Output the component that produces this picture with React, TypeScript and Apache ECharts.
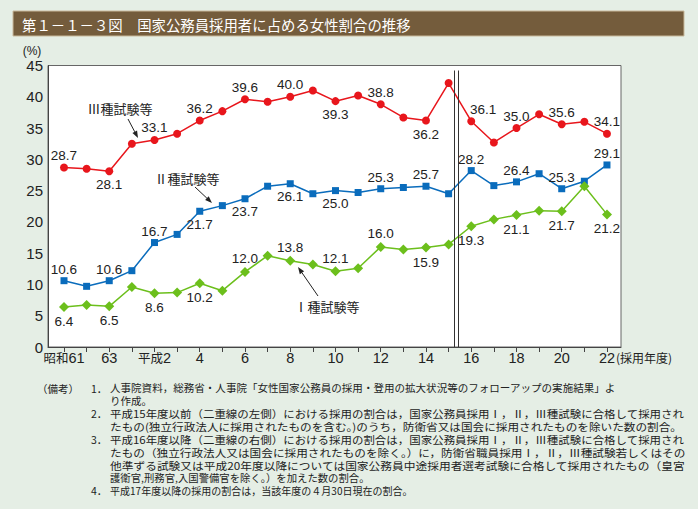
import React, { useEffect, useRef } from 'react';
import * as echarts from 'echarts';

// ---- data ----
const tickLabels = ['昭和61', '', '63', '', '平成2', '', '4', '', '6', '', '8', '', '10', '', '12', '', '14', '', '16', '', '18', '', '20', '', '22'];
const type3 = [28.7, 28.5, 28.1, 32.5, 33.1, 34.1, 36.2, 37.7, 39.6, 39.2, 40.0, 41.0, 39.3, 40.2, 38.8, 36.7, 36.2, 42.2, 36.1, 32.7, 35.0, 37.2, 35.6, 36.0, 34.1];
const type2 = [10.6, 9.7, 10.6, 12.2, 16.7, 18.0, 21.7, 22.6, 23.7, 25.7, 26.1, 24.5, 25.0, 24.7, 25.3, 25.5, 25.7, 24.5, 28.2, 25.8, 26.4, 27.7, 25.3, 26.5, 29.1];
const type1 = [6.4, 6.7, 6.5, 9.6, 8.6, 8.7, 10.2, 9.0, 12.0, 14.6, 13.8, 13.2, 12.1, 12.6, 16.0, 15.6, 15.9, 16.4, 19.3, 20.4, 21.1, 21.8, 21.7, 25.7, 21.2];

const T = 'top', B = 'bottom', N = '';
const labelPos3 = [T, N, B, N, T, N, T, N, T, N, T, N, B, N, T, N, B, N, T, N, T, N, T, N, T];
const labelPos2 = [T, N, T, N, T, N, B, N, B, N, B, N, B, N, T, N, T, N, T, N, T, N, T, N, T];
const labelPos1 = [B, N, B, N, B, N, B, N, T, N, T, N, T, N, T, N, B, N, B, N, B, N, B, N, B];

const seriesNames = ['Ⅲ種試験等', 'Ⅱ種試験等', 'Ⅰ種試験等'];
const title = '第１－１－３図　国家公務員採用者に占める女性割合の推移';
const unitLabel = '(%)';
const xUnitLabel = '(採用年度)';
const notesHead = '（備考）';
const noteNums = ['1．', '', '2．', '', '3．', '', '', '', '4．'];
const noteLines = [
  '人事院資料，総務省・人事院「女性国家公務員の採用・登用の拡大状況等のフォローアップの実施結果」よ',
  'り作成。',
  '平成15年度以前（二重線の左側）における採用の割合は，国家公務員採用Ⅰ，Ⅱ，Ⅲ種試験に合格して採用され',
  'たもの(独立行政法人に採用されたものを含む。)のうち，防衛省又は国会に採用されたものを除いた数の割合。',
  '平成16年度以降（二重線の右側）における採用の割合は，国家公務員採用Ⅰ，Ⅱ，Ⅲ種試験に合格して採用され',
  'たもの（独立行政法人又は国会に採用されたものを除く。）に，防衛省職員採用Ⅰ，Ⅱ，Ⅲ種試験若しくはその',
  '他準ずる試験又は平成20年度以降については国家公務員中途採用者選考試験に合格して採用されたもの（皇宮',
  '護衛官,刑務官,入国警備官を除く。）を加えた数の割合。',
  '平成17年度以降の採用の割合は，当該年度の４月30日現在の割合。',
];

// ---- layout / style ----
const W = 698, H = 509;
const CJK = '"Noto Sans CJK JP", sans-serif';
const NUM = '"Liberation Sans", Arial, sans-serif';
const noteWidths = [506, 0, 575, 578, 575, 576, 576, 260, 303];

function measure(text: string, font: string): number {
  const c = document.createElement('canvas');
  const ctx = c.getContext('2d');
  if (!ctx) return text.length * 10;
  ctx.font = font;
  return ctx.measureText(text).width;
}

function arrow(x1: number, y1: number, x2: number, y2: number): any[] {
  const dx = x2 - x1, dy = y2 - y1;
  const len = Math.sqrt(dx * dx + dy * dy);
  const ux = dx / len, uy = dy / len;
  const hl = 7, hw = 2.6;
  const bx = x2 - ux * hl, by = y2 - uy * hl;
  return [
    { type: 'line', shape: { x1, y1, x2: bx, y2: by }, style: { stroke: '#222', lineWidth: 1 }, silent: true },
    {
      type: 'polygon',
      shape: { points: [[x2, y2], [bx - uy * hw, by + ux * hw], [bx + uy * hw, by - ux * hw]] },
      style: { fill: '#222' },
      silent: true,
    },
  ];
}

function buildData(values: number[], pos: string[], offsets: Record<number, number[]> = {}) {
  return values.map((v, i) => ({
    value: [i, v],
    label: pos[i]
      ? { show: true, position: pos[i], distance: pos[i] === 'top' ? 1 : 2.5, offset: offsets[i] || [0, 0] }
      : { show: false },
  }));
}

export default function App() {
  const ref = useRef<HTMLDivElement>(null);
  useEffect(() => {
    if (!ref.current) return;
    const chart = echarts.init(ref.current, undefined, { renderer: 'svg' });

    const labelStyle = {
      fontSize: 13.5,
      color: '#222',
      fontFamily: NUM,
      formatter: (p: any) => Number(p.value[1]).toFixed(1),
    };

    const noteFont = `10.5px ${CJK}`;
    const notes: any[] = [];
    const noteY0 = 388, noteDy = 12.8;
    notes.push({ type: 'text', x: 37, y: noteY0, style: { text: notesHead, font: noteFont, fill: '#222', verticalAlign: 'middle' }, silent: true });
    noteLines.forEach((line, i) => {
      const y = noteY0 + i * noteDy;
      if (noteNums[i]) {
        notes.push({ type: 'text', x: 91, y, style: { text: noteNums[i], font: noteFont, fill: '#222', verticalAlign: 'middle' }, silent: true });
      }
      const w = measure(line, noteFont);
      const sx = noteWidths[i] ? noteWidths[i] / w : 1;
      notes.push({ type: 'text', x: 110, y, style: { text: line, font: noteFont, fill: '#222', verticalAlign: 'middle' }, scaleX: sx, silent: true });
    });

    const annot = (text: string, cx: number, cy: number) => ({
      type: 'text', x: cx, y: cy,
      style: { text, font: `13px ${CJK}`, fill: '#222', align: 'center', verticalAlign: 'middle' },
      silent: true,
    });

    const option: any = {
      animation: false,
      backgroundColor: '#e5eee5',
      grid: {
        left: 48, right: W - 621, top: 65.5, bottom: H - 347,
        show: true, backgroundColor: '#fff', borderColor: '#666', borderWidth: 1,
      },
      xAxis: {
        type: 'value', min: -0.707, max: 24.62,
        axisLine: { show: true, onZero: false, lineStyle: { color: '#444', width: 1 } },
        axisTick: { show: true, customValues: tickLabels.map((_, i) => i), length: 5, lineStyle: { color: '#444' } },
        axisLabel: {
          customValues: tickLabels.map((_, i) => i).filter((i) => tickLabels[i] !== ''),
          margin: 3,
          formatter: (v: number) => {
            const s = tickLabels[Math.round(v)] || '';
            const m = s.match(/^(昭和|平成)(.*)$/);
            return m ? `{c|${m[1]}}{n|${m[2]}}` : `{n|${s}}`;
          },
          rich: {
            c: { fontSize: 12.5, fontFamily: CJK, color: '#222' },
            n: { fontSize: 14.5, fontFamily: NUM, color: '#222' },
          },
        },
        splitLine: { show: false },
      },
      yAxis: {
        type: 'value', min: 0, max: 45, interval: 5,
        axisLine: { show: true, onZero: false, lineStyle: { color: '#444', width: 1 } },
        axisTick: { show: false },
        axisLabel: { fontSize: 15, fontFamily: NUM, color: '#222', margin: 5 },
        splitLine: { show: false },
      },
      series: [
        {
          name: seriesNames[0], type: 'line', symbol: 'circle', symbolSize: 8,
          itemStyle: { color: '#e8161c' }, lineStyle: { color: '#e8161c', width: 1.5 },
          label: labelStyle,
          data: buildData(type3, labelPos3, { 18: [12, 0] }),
          markLine: {
            silent: true, symbol: ['none', 'none'], label: { show: false },
            lineStyle: { color: '#333', width: 1, type: 'solid' },
            data: [
              [{ coord: [17.27, 0] }, { coord: [17.27, 44.2] }],
              [{ coord: [17.42, 0] }, { coord: [17.42, 44.2] }],
            ],
          },
          z: 3,
        },
        {
          name: seriesNames[1], type: 'line', symbol: 'rect', symbolSize: 7,
          itemStyle: { color: '#0a6cbc' }, lineStyle: { color: '#0a6cbc', width: 1.5 },
          label: labelStyle,
          data: buildData(type2, labelPos2),
          z: 3,
        },
        {
          name: seriesNames[2], type: 'line', symbol: 'diamond', symbolSize: 10,
          itemStyle: { color: '#6cbf1c' }, lineStyle: { color: '#6cbf1c', width: 1.5 },
          label: labelStyle,
          data: buildData(type1, labelPos1),
          z: 3,
        },
      ],
      graphic: [
        { type: 'rect', shape: { x: 13, y: 11, width: 671, height: 25 }, style: { fill: '#745c3c', stroke: '#c9b99b', lineWidth: 1 }, silent: true },
        { type: 'text', x: 22, y: 24, style: { text: title, font: `14.4px ${CJK}`, fill: '#fff', verticalAlign: 'middle' }, silent: true },
        { type: 'text', x: 32, y: 51, style: { text: unitLabel, font: `12px ${NUM}`, fill: '#222', align: 'center', verticalAlign: 'middle' }, silent: true },
        { type: 'text', x: 616, y: 357.5, style: { text: xUnitLabel, font: `12px ${CJK}`, fill: '#222', verticalAlign: 'middle' }, silent: true },
        annot(seriesNames[0], 120, 108),
        ...arrow(128, 119, 138, 138),
        annot(seriesNames[1], 187, 178),
        ...arrow(195, 187, 212, 203),
        annot(seriesNames[2], 327, 306),
        ...arrow(318, 296, 298, 267),
        ...notes,
      ],
    };
    chart.setOption(option);
    return () => chart.dispose();
  }, []);

  return (
    <div style={{ position: 'fixed', left: 0, top: 0, width: W, height: H }}>
      <div ref={ref} style={{ width: W, height: H }} />
    </div>
  );
}
